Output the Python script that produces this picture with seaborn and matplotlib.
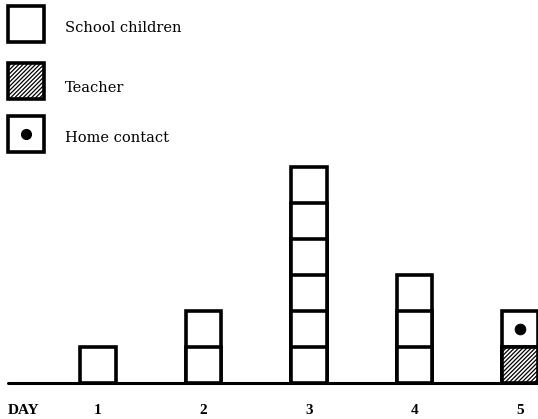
import numpy as np
import pandas as pd
import matplotlib
matplotlib.use("Agg")
import matplotlib.pyplot as plt
from matplotlib.patches import Rectangle
import seaborn as sns

# ---- data ----
days = [1, 2, 3, 4, 5]
day_labels = ["1", "2", "3", "4", "5"]
school_children = [1, 2, 6, 3, 0]
teacher = [0, 0, 0, 0, 1]
home_contact = [0, 0, 0, 0, 1]
legend_labels = ["School children", "Teacher", "Home contact"]

sns.set_style("white")
plt.rcParams["font.family"] = ["DejaVu Serif"]
plt.rcParams["text.color"] = "black"
plt.rcParams["hatch.linewidth"] = 0.9

W, H = 538, 419
fig = plt.figure(figsize=(W / 100, H / 100), dpi=100)
ax = fig.add_axes([0, 0, 1, 1])

totals = [s + t + h for s, t, h in zip(school_children, teacher, home_contact)]
bar_w = 0.34
lw = 2.6
hatch = "////////"

# Draw stacked unit boxes: tallest level first so each lower level adds a divider line
for k in range(max(totals), 0, -1):
    sub = pd.DataFrame({"day": [d for d, t in zip(days, totals) if t >= k]})
    sub["level"] = k
    sns.barplot(data=sub, x="day", y="level", native_scale=True, width=bar_w,
                color="white", edgecolor="black", linewidth=lw, ax=ax,
                saturation=1, errorbar=None)

# teacher boxes (bottom of stack, hatched)
tdf = pd.DataFrame({"day": [d for d, t in zip(days, teacher) if t > 0],
                    "n": [t for t in teacher if t > 0]})
sns.barplot(data=tdf, x="day", y="n", native_scale=True, width=bar_w,
            color="white", edgecolor="black", linewidth=lw, hatch=hatch,
            ax=ax, saturation=1, errorbar=None)

# home contact dots (level above teacher)
hdf = pd.DataFrame({"day": [d for d, h in zip(days, home_contact) if h > 0],
                    "y": [t + h - 0.5 for t, h in zip(teacher, home_contact) if h > 0]})
sns.scatterplot(data=hdf, x="day", y="y", color="black", s=60, ax=ax,
                edgecolor="black", zorder=5)

# axis mapping (px -> data)
x0 = 1 - 98 / 105.5
ax.set_xlim(x0, x0 + W / 105.5)
ax.set_ylim(-1.0, -1.0 + H / 36.0)
ax.axis("off")

# baseline
ax.axhline(0, xmin=8 / W, xmax=1, color="black", lw=2.2, zorder=0.5)

# day labels
for d, lab in zip(days, day_labels):
    ax.text(d, -0.75, lab, ha="center", va="center", fontsize=11,
            fontweight="bold", family="Liberation Serif")
fig.text(8 / W, 1 - 410 / H, "DAY", ha="left", va="center", fontsize=11,
         fontweight="bold", family="Liberation Serif")

# legend
def px_rect(x, y, w, h, **kw):
    r = Rectangle((x / W, 1 - (y + h) / H), w / W, h / H,
                  transform=fig.transFigure, fill=True, facecolor="white",
                  edgecolor="black", linewidth=lw, **kw)
    fig.add_artist(r)

px_rect(8, 6, 36, 36)
px_rect(8, 63, 36, 36, hatch=hatch)
px_rect(8, 116, 36, 36)
fig.add_artist(plt.Line2D([26 / W], [1 - 134 / H], marker="o", color="black",
                          markersize=7, transform=fig.transFigure))
for lab, yy in zip(legend_labels, [28, 88, 138]):
    fig.text(65 / W, 1 - yy / H, lab, ha="left", va="center", fontsize=10.5)

fig.savefig("out.png", dpi=100)
